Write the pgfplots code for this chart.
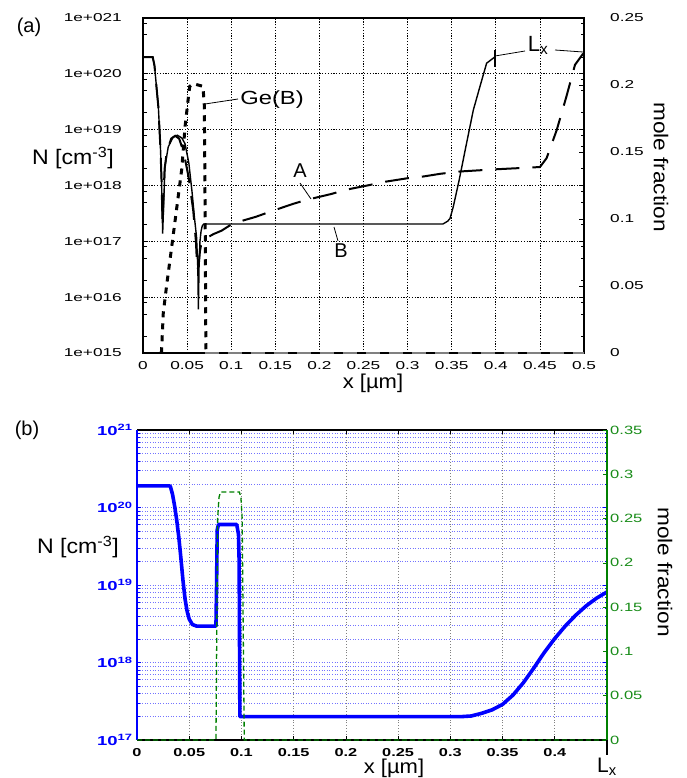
\documentclass[border=0pt]{standalone}
\usepackage{pgfplots}
\pgfplotsset{compat=1.18}
\usepackage{graphicx}
\usepackage{fontspec}
\setmainfont{Liberation Sans}
\setsansfont{Liberation Sans}

\definecolor{mgreen}{rgb}{0,0.5,0}
\definecolor{tgreen}{rgb}{0.1,0.55,0.1}
\newcommand\fs[1]{\fontsize{#1}{#1}\selectfont}
\newcommand\sx[1]{\scalebox{1.5}[1]{#1}}
\newcommand\tb[1]{\scalebox{1.42}[1]{\bfseries #1}}
\newcommand\tg[1]{\scalebox{1.38}[1]{#1}}

\begin{document}
\begin{tikzpicture}
\useasboundingbox (0,0) rectangle (686pt,-778pt);

% ---------------- panel (a) ----------------
\begin{axis}[
    at={(143pt,-353pt)}, anchor=south west,
    scale only axis, width=441pt, height=335pt,
    xmin=0, xmax=0.5,
    ymode=log, ymin=1e15, ymax=1e21,
    axis line style={line width=1.6pt},
    xtick={0,0.05,0.1,0.15,0.2,0.25,0.3,0.35,0.4,0.45,0.5},
    xticklabels={\sx{0},\sx{0.05},\sx{0.1},\sx{0.15},\sx{0.2},\sx{0.25},\sx{0.3},\sx{0.35},\sx{0.4},\sx{0.45},\sx{0.5}},
    ytick={1e15,1e16,1e17,1e18,1e19,1e20,1e21},
    yticklabels={\sx{1e+015},\sx{1e+016},\sx{1e+017},\sx{1e+018},\sx{1e+019},\sx{1e+020},\sx{1e+021}},
    minor ytick={2e15,5e15,8e15,2e16,5e16,8e16,2e17,5e17,8e17,2e18,5e18,8e18,2e19,5e19,8e19,2e20,5e20,8e20},
    grid=major,
    major grid style={black, line width=0.8pt, dash pattern=on 1.1pt off 1.7pt},
    tick align=inside,
    xtick style={draw=none},
    ytick style={black, line width=0.8pt},
    major tick length=5pt, minor tick length=3.5pt,
    ticklabel style={font=\fs{11.5}, inner sep=0pt},
    yticklabel style={xshift=-21pt},
    xticklabel style={yshift=-8pt},
]
% A (dashed)
\addplot[black, line width=2pt, dash pattern=on 24pt off 13pt] coordinates {
(0,2.0e20) (0.011,2.0e20) (0.013,1.41e20) (0.0174,2.57e19) (0.0199,4.27e18)
(0.021,1.26e18) (0.0222,2.0e17) (0.0232,6.0e17) (0.0245,2.0e18) (0.027,3.98e18)
(0.032,6.92e18) (0.0365,7.76e18) (0.041,6.9e18) (0.046,4.0e18) (0.0516,1.45e18)
(0.0569,3.63e17) (0.0600,1.0e17) (0.0615,3.16e16) (0.063,3.5e16) (0.0645,6.5e16)
(0.0664,9.77e16) (0.070,1.1e17) (0.080,1.35e17) (0.089,1.55e17) (0.102,2.09e17)
(0.128,2.75e17) (0.144,3.39e17) (0.170,4.68e17) (0.185,5.5e17) (0.214,7.08e17)
(0.229,8.32e17) (0.257,1.02e18) (0.272,1.15e18) (0.300,1.35e18) (0.318,1.45e18)
(0.337,1.62e18) (0.359,1.78e18) (0.400,1.95e18) (0.450,2.14e18) (0.4576,3.09e18)
(0.469,9.77e18) (0.480,3.89e19) (0.4898,1.45e20) (0.499,2.3e20)
};
% B (solid)
\addplot[black, line width=1.4pt] coordinates {
(0,2.0e20) (0.011,2.0e20) (0.013,1.41e20) (0.0174,2.57e19) (0.0199,4.27e18)
(0.021,1.26e18) (0.0223,1.38e17) (0.0235,5.0e17) (0.0249,2.19e18) (0.0286,4.9e18)
(0.0343,7.41e18) (0.0390,7.94e18) (0.0440,7.1e18) (0.0476,5.62e18) (0.0520,2.51e18)
(0.0555,7.94e17) (0.0585,2.51e17) (0.0607,1.2e17) (0.0622,3.16e16) (0.0628,6.03e15)
(0.0636,3.98e16) (0.0646,1.0e17) (0.0658,1.51e17) (0.0672,1.9e17) (0.069,2.04e17)
(0.340,2.04e17) (0.3455,2.3e17) (0.3481,2.57e17) (0.3518,4.17e17) (0.3585,1.26e18)
(0.366,4.9e18) (0.3745,2.24e19) (0.382,5.9e19) (0.3896,1.55e20) (0.3995,2.04e20)
};
\end{axis}

\begin{axis}[
    at={(143pt,-353pt)}, anchor=south west,
    scale only axis, width=441pt, height=335pt,
    xmin=0, xmax=0.5, ymin=0, ymax=0.25,
    axis x line=none, axis y line*=right,
    axis line style={line width=1.6pt},
    ytick={0,0.05,0.1,0.15,0.2,0.25},
    yticklabels={\sx{0},\sx{0.05},\sx{0.1},\sx{0.15},\sx{0.2},\sx{0.25}},
    tick align=inside,
    ytick style={black, line width=0.8pt},
    major tick length=5pt,
    ticklabel style={font=\fs{11.5}, inner sep=0pt},
    yticklabel style={xshift=26pt},
]
% Ge(A) at zero
\addplot[gray, line width=1.5pt, dash pattern=on 14pt off 9pt] coordinates {(0.07,0) (0.5,0)};
% Ge(B) (dotted)
\addplot[black, line width=3pt, dash pattern=on 6pt off 6pt] coordinates {
(0.020,0) (0.021,0.001) (0.023,0.030) (0.0269,0.051) (0.0325,0.079) (0.038,0.107)
(0.0439,0.137) (0.0477,0.169) (0.0515,0.191) (0.053,0.199) (0.057,0.201)
(0.068,0.199) (0.0695,0.185) (0.0705,0.1) (0.0713,0)
};
\end{axis}

\node at (29pt,-27pt) {\fs{20}(a)};
\node at (73pt,-158pt) {\scalebox{1.1}[1]{\fs{21}N [cm\textsuperscript{-3}]}};
\node at (373pt,-383pt) {\scalebox{1.1}[1]{\fs{20}x [µm]}};
\node[rotate=-90] at (661pt,-167pt) {\scalebox{1.13}[1]{\fs{20}mole fraction}};
\node at (272pt,-100pt) {\scalebox{1.25}[1]{\fs{19}Ge(B)}};
\draw[line width=0.8pt] (205pt,-104pt) -- (238pt,-99pt);
\node at (300pt,-171pt) {\fs{20}A};
\draw[line width=0.8pt] (300pt,-183pt) -- (311pt,-199pt);
\node at (341pt,-251pt) {\fs{20}B};
\draw[line width=0.8pt] (334pt,-227pt) -- (338pt,-241pt);
\node at (538pt,-45pt) {\fs{22}L\textsubscript{x}};
\draw[line width=1.4pt] (495pt,-50pt) -- (495pt,-67pt);
\draw[line width=0.8pt] (495pt,-56pt) -- (525pt,-51pt);
\draw[line width=0.8pt] (555pt,-50pt) -- (583pt,-52pt);

% ---------------- panel (b) ----------------
\begin{axis}[
    at={(137pt,-740pt)}, anchor=south west,
    scale only axis, width=470pt, height=310pt,
    xmin=0, xmax=0.45,
    ymode=log, ymin=1e17, ymax=1e21,
    separate axis lines,
    x axis line style={black, line width=1.3pt},
    y axis line style={blue, line width=1.3pt},
    xtick={0,0.05,0.1,0.15,0.2,0.25,0.3,0.35,0.4},
    xticklabels={\tb{0},\tb{0.05},\tb{0.1},\tb{0.15},\tb{0.2},\tb{0.25},\tb{0.3},\tb{0.35},\tb{0.4}},
    ytick={1e17,1e18,1e19,1e20,1e21},
    yticklabels={\tb{10\textsuperscript{17}},\tb{10\textsuperscript{18}},\tb{10\textsuperscript{19}},\tb{10\textsuperscript{20}},\tb{10\textsuperscript{21}}},
    xmajorgrids, ymajorgrids, yminorgrids,
    x grid style={gray, line width=0.6pt, dash pattern=on 0.8pt off 2pt},
    y grid style={blue!55, line width=0.6pt, dash pattern=on 0.8pt off 1.8pt},
    tick align=inside,
    xtick style={black, line width=0.6pt},
    ytick style={blue, line width=0.6pt},
    major tick length=4pt, minor tick length=2.5pt,
    ticklabel style={font=\fs{11.5}, inner sep=0pt},
    xticklabel style={black, yshift=-8pt},
    yticklabel style={blue, font=\fs{13}, xshift=-4pt},
]
\addplot[blue, line width=3.6pt, line join=round] coordinates {
(0,1.9e20) (0.031,1.9e20) (0.032,1.86e20) (0.034,1.48e20) (0.036,1.05e20)
(0.038,6.92e19) (0.040,4.17e19) (0.042,2.24e19) (0.044,1.15e19) (0.046,6.61e18)
(0.048,4.57e18) (0.050,3.63e18) (0.053,3.09e18) (0.057,2.95e18)
(0.0756,2.95e18) (0.0762,1.0e19) (0.0768,5.13e19) (0.0780,6.03e19) (0.0955,6.03e19)
(0.0972,4.47e19) (0.0978,2.0e19) (0.0985,2.0e17) (0.31,2.0e17) (0.32,2.04e17)
(0.33,2.21e17) (0.34,2.45e17) (0.35,2.88e17) (0.36,3.8e17) (0.37,5.5e17)
(0.38,8.51e17) (0.39,1.35e18) (0.40,2.04e18) (0.41,2.95e18) (0.42,4.07e18)
(0.43,5.37e18) (0.44,6.76e18) (0.45,8.13e18)
};
\end{axis}

\begin{axis}[
    at={(137pt,-740pt)}, anchor=south west,
    scale only axis, width=470pt, height=310pt,
    xmin=0, xmax=0.45, ymin=0, ymax=0.35,
    axis x line=none, axis y line*=right,
    axis line style={mgreen, line width=1.3pt},
    ytick={0,0.05,0.1,0.15,0.2,0.25,0.3,0.35},
    yticklabels={\tg{0},\tg{0.05},\tg{0.1},\tg{0.15},\tg{0.2},\tg{0.25},\tg{0.3},\tg{0.35}},
    tick align=inside,
    ytick style={mgreen, line width=0.6pt},
    major tick length=4pt,
    ticklabel style={font=\fs{12}, inner sep=0pt, tgreen},
    yticklabel style={xshift=3pt},
]
\addplot[mgreen, line width=1.3pt, dash pattern=on 5pt off 3pt] coordinates {
(0,0) (0.0756,0) (0.0772,0.25) (0.0785,0.274) (0.080,0.28) (0.098,0.28)
(0.0995,0.274) (0.1007,0.25) (0.1027,0) (0.45,0)
};
\end{axis}

\node at (27pt,-430pt) {\fs{20}(b)};
\node at (78pt,-547pt) {\scalebox{1.1}[1]{\fs{21}N [cm\textsuperscript{-3}]}};
\node at (394pt,-768pt) {\scalebox{1.1}[1]{\fs{20}x [µm]}};
\node[rotate=-90] at (665pt,-572pt) {\scalebox{1.13}[1]{\fs{20}mole fraction}};
\draw[line width=1.3pt] (607pt,-740pt) -- (607pt,-755pt);
\node at (607pt,-767pt) {\fs{21}L\textsubscript{x}};
\end{tikzpicture}
\end{document}
